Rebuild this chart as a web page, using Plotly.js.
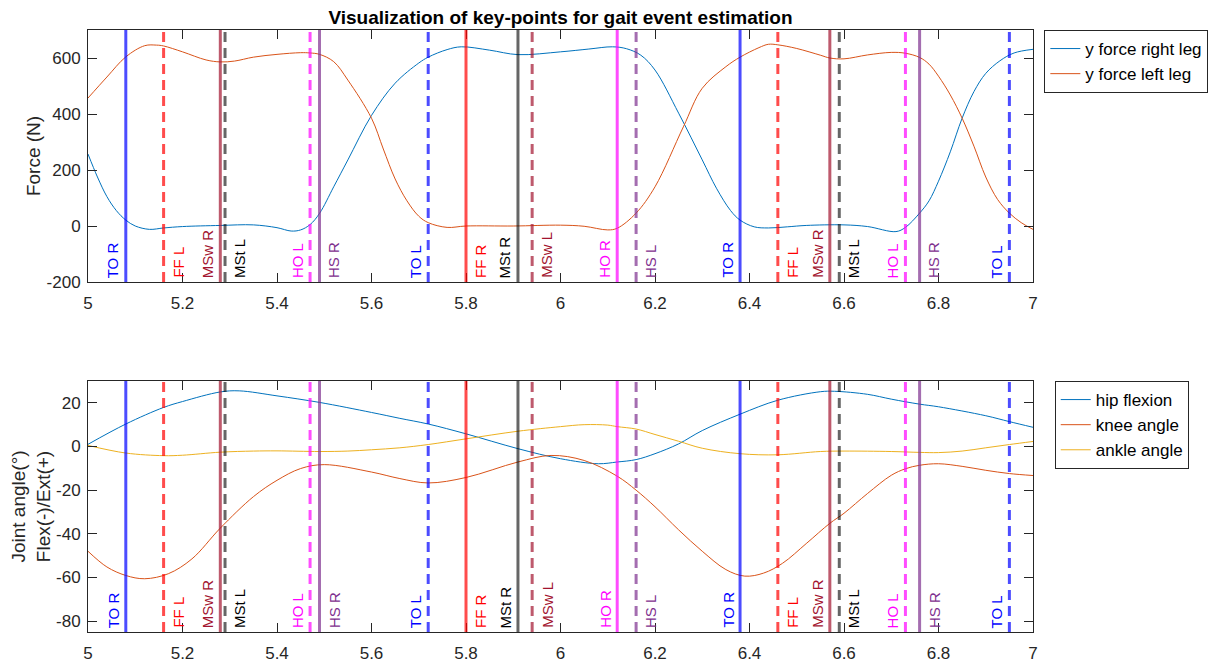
<!DOCTYPE html>
<html>
<head>
<meta charset="utf-8">
<script src="https://cdn.plot.ly/plotly-3.0.1.min.js"></script>
<style>html,body{margin:0;padding:0;background:#fff}#chart{width:1208px;height:662px}</style>
</head>
<body>
<div id="chart"></div>
<script>
// ---------- data ----------
const forceRightT = [5.00,5.02,5.04,5.06,5.08,5.10,5.13,5.16,5.20,5.28,5.35,5.40,5.43,5.45,5.47,5.49,5.52,5.55,5.60,5.65,5.70,5.72,5.76,5.79,5.85,5.91,6.00,6.06,6.11,6.14,6.17,6.20,6.25,6.30,6.33,6.36,6.38,6.41,6.44,6.48,6.52,6.60,6.65,6.71,6.73,6.76,6.78,6.80,6.825,6.85,6.875,6.90,6.93,6.96,7.00];
const forceRight  = [257,175,105,55,21,0,-12,-7,-2,2,4,-6,-18,-14,5,45,140,236,395,510,582,603,630,640,628,612,622,632,640,633,610,557,403,236,135,55,21,-3,-7,-3,2,4,-2,-20,-5,46,90,160,265,385,480,545,590,618,631];

const forceLeftT = [5.00,5.04,5.08,5.12,5.145,5.16,5.20,5.25,5.28,5.31,5.35,5.40,5.45,5.47,5.49,5.52,5.55,5.60,5.625,5.65,5.675,5.70,5.72,5.76,5.80,5.90,6.00,6.05,6.10,6.12,6.16,6.20,6.26,6.30,6.35,6.38,6.42,6.44,6.46,6.50,6.55,6.57,6.60,6.65,6.70,6.73,6.76,6.78,6.80,6.825,6.85,6.875,6.90,6.925,6.95,6.975,7.00];
const forceLeft  = [457,532,604,644,646,643,622,593,586,589,603,613,619,618,613,587,521,385,275,168,90,35,12,-5,0,0,3,-1,-14,-8,46,140,354,492,569,603,637,649,647,634,610,600,597,611,620,617,602,578,535,468,385,285,175,95,46,12,-12];

const hipT = [5.00,5.08,5.16,5.20,5.28,5.32,5.40,5.49,5.60,5.66,5.72,5.80,5.91,6.00,6.08,6.12,6.16,6.20,6.25,6.30,6.38,6.46,6.55,6.58,6.65,6.70,6.76,6.80,6.90,6.95,7.00];
const hip  = [1,10.3,17.9,20.6,25,25.5,23.2,20.2,15.6,12.9,10.3,5.8,-1,-5.6,-7.9,-7.1,-6,-3.3,1.2,7.3,14.8,21.2,25.1,25.3,23.9,21.7,19.4,18.2,14.1,11.4,8.8];

const kneeT = [5.00,5.04,5.08,5.12,5.17,5.22,5.28,5.35,5.40,5.45,5.50,5.60,5.66,5.72,5.80,5.91,5.98,6.05,6.12,6.16,6.20,6.25,6.30,6.35,6.39,6.43,6.47,6.52,6.57,6.60,6.65,6.70,6.73,6.76,6.80,6.85,6.90,6.95,7.00];
const knee  = [-48,-55.2,-59.1,-60.6,-58.3,-51.5,-37.4,-23,-15.5,-10.1,-8.3,-11.7,-14.7,-16.7,-14.2,-7.1,-4.1,-6.4,-13.6,-20,-27.6,-38.2,-48,-56.4,-59.4,-58,-53.5,-44.5,-35.2,-30.6,-21.5,-13.2,-10.2,-8.6,-7.9,-9.1,-10.9,-12.4,-13.3];

const ankleT = [5.00,5.08,5.16,5.20,5.28,5.35,5.40,5.49,5.55,5.60,5.66,5.72,5.80,5.91,6.00,6.05,6.10,6.12,6.16,6.20,6.25,6.30,6.38,6.46,6.55,6.60,6.70,6.76,6.80,6.85,6.90,6.95,7.00];
const ankle  = [0.5,-3,-4.2,-4,-2.6,-2.1,-2,-2.3,-2.1,-1.5,-0.6,0.9,3.5,7,9.1,10,9.8,9.1,8,5.5,2.4,-0.8,-3.3,-3.8,-2.3,-2.1,-2.3,-2.7,-2.8,-2.1,-0.6,0.9,2.3];

const eventTimes  = [5.08,5.16,5.28,5.29,5.47,5.49,5.72,5.80,5.91,5.94,6.12,6.16,6.38,6.46,6.57,6.59,6.73,6.76,6.95];
const eventLabels = ['TO R','FF L','MSw R','MSt L','HO L','HS R','TO L','FF R','MSt R','MSw L','HO R','HS L','TO R','FF L','MSw R','MSt L','HO L','HS R','TO L'];

const xTickVals = [5,5.2,5.4,5.6,5.8,6,6.2,6.4,6.6,6.8,7];
const xTickText = ['5','5.2','5.4','5.6','5.8','6','6.2','6.4','6.6','6.8','7'];
const forceTickVals = [-200,0,200,400,600];
const forceTickText = ['-200','0','200','400','600'];
const angleTickVals = [-80,-60,-40,-20,0,20];
const angleTickText = ['-80','-60','-40','-20','0','20'];

// ---------- styles ----------
const FONT = 'Liberation Sans, Arial, Helvetica, sans-serif';
const AX = '#262626';
const eventStyle = {
  'TO':  {line:'rgba(0,0,255,0.7)',    text:'#0000ff'},
  'FF':  {line:'rgba(255,0,0,0.7)',    text:'#ff0000'},
  'MSw': {line:'rgba(162,20,47,0.7)',  text:'#a2142f'},
  'MSt': {line:'rgba(0,0,0,0.6)',      text:'#000000'},
  'HO':  {line:'rgba(255,0,255,0.7)',  text:'#ff00ff'},
  'HS':  {line:'rgba(126,47,142,0.7)', text:'#7e2f8e'}
};
const labelSide = {'TO R':'L','TO L':'L','FF R':'R','FF L':'R','MSw R':'L','MSw L':'R','MSt R':'L','MSt L':'R','HO R':'L','HO L':'L','HS R':'R','HS L':'R'};

const shapes = [];
const annotations = [];
[['x','y'],['x2','y2']].forEach(([xr,yr]) => {
  eventTimes.forEach((t,i) => {
    const lab = eventLabels[i];
    const [type, leg] = lab.split(' ');
    const st = eventStyle[type];
    shapes.push({type:'line', xref:xr, yref:yr+' domain', x0:t, x1:t, y0:0, y1:1,
      line:{color:st.line, width:3, dash: leg==='R' ? 'solid' : '10px,6px'}});
    const left = labelSide[lab]==='L';
    annotations.push({xref:xr, yref:yr+' domain', x:t, y:0, yanchor:'bottom',
      xanchor: left ? 'right' : 'left', xshift: left ? -2 : 4, yshift:2,
      text:lab, textangle:-90, showarrow:false,
      font:{family:FONT, size:15, color:st.text}});
  });
});

function xAxis(anchor){
  return {range:[5,7], anchor:anchor, tickvals:xTickVals, ticktext:xTickText,
    ticks:'inside', ticklen:9, tickcolor:AX, tickwidth:1, showline:true, linecolor:AX, linewidth:1,
    mirror:'ticks', showgrid:false, zeroline:false, ticklabelstandoff:6,
    tickfont:{family:FONT, size:17, color:AX}};
}
function yAxis(anchor, domain, range, tv, tt, title){
  return {range:range, domain:domain, anchor:anchor, tickvals:tv, ticktext:tt,
    ticks:'inside', ticklen:9, tickcolor:AX, tickwidth:1, showline:true, linecolor:AX, linewidth:1,
    mirror:'ticks', showgrid:false, zeroline:false, ticklabelstandoff:3,
    tickfont:{family:FONT, size:17, color:AX},
    title:{text:title, font:{family:FONT, size:19, color:AX}}};
}

const traces = [
  {x:forceRightT, y:forceRight, name:'y force right leg', xaxis:'x', yaxis:'y', legend:'legend',
   mode:'lines', line:{color:'#0072BD', width:1, shape:'spline', smoothing:1}},
  {x:forceLeftT, y:forceLeft, name:'y force left leg', xaxis:'x', yaxis:'y', legend:'legend',
   mode:'lines', line:{color:'#D95319', width:1, shape:'spline', smoothing:1}},
  {x:hipT, y:hip, name:'hip flexion', xaxis:'x2', yaxis:'y2', legend:'legend2',
   mode:'lines', line:{color:'#0072BD', width:1, shape:'spline', smoothing:1}},
  {x:kneeT, y:knee, name:'knee angle', xaxis:'x2', yaxis:'y2', legend:'legend2',
   mode:'lines', line:{color:'#D95319', width:1, shape:'spline', smoothing:1}},
  {x:ankleT, y:ankle, name:'ankle angle', xaxis:'x2', yaxis:'y2', legend:'legend2',
   mode:'lines', line:{color:'#EDB120', width:1, shape:'spline', smoothing:1}}
];

const legendBase = {xanchor:'left', yanchor:'top', bgcolor:'#ffffff', bordercolor:AX, borderwidth:1,
  font:{family:FONT, size:17, color:'#000'}, itemwidth:30, tracegroupgap:0};

const layout = {
  width:1208, height:662,
  margin:{l:88, r:175, t:30, b:30, autoexpand:false},
  paper_bgcolor:'#ffffff', plot_bgcolor:'#ffffff',
  font:{family:FONT},
  title:{text:'<b>Visualization of key-points for gait event estimation</b>',
    font:{family:FONT, size:19, color:'#000'}, x:0.5, xref:'paper', xanchor:'center',
    y:1-17/662, yref:'container', yanchor:'middle'},
  xaxis:xAxis('y'),
  xaxis2:xAxis('y2'),
  yaxis:yAxis('x',[0.5814,1],[-200,700],forceTickVals,forceTickText,'Force (N)'),
  yaxis2:yAxis('x2',[0,0.4169],[-85,30],angleTickVals,angleTickText,'Joint angle(°)<br>Flex(-)/Ext(+)'),
  legend:Object.assign({x:1.012, y:1}, legendBase),
  legend2:Object.assign({x:1.023, y:0.4169}, legendBase),
  shapes:shapes,
  annotations:annotations,
  showlegend:true
};

Plotly.newPlot('chart', traces, layout, {displayModeBar:false, staticPlot:true});
</script>
</body>
</html>
